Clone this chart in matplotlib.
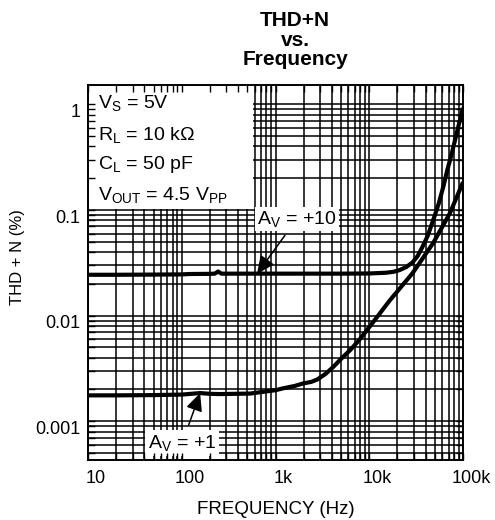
# THD+N vs. frequency, datasheet style log-log chart

import matplotlib
matplotlib.use('Agg')
import matplotlib.pyplot as plt
from matplotlib.patches import Rectangle
from matplotlib.ticker import NullFormatter
from matplotlib.transforms import ScaledTranslation

plt.rcParams['font.family'] = ['Liberation Sans', 'DejaVu Sans']
plt.rcParams['mathtext.fontset'] = 'custom'
plt.rcParams['mathtext.rm'] = 'Liberation Sans'
plt.rcParams['mathtext.it'] = 'Liberation Sans:italic'
plt.rcParams['mathtext.bf'] = 'Liberation Sans:bold'

#### data ####
# gain = +10 curve
freq_av10 = [10, 20, 50, 100, 120, 200, 225, 244, 265, 500, 1000, 2000, 5000, 10000,
             15000, 18000, 21000, 25000, 29000, 33000, 37000, 42000, 48000,
             55000, 62000, 68000, 75000, 85000, 100000]
thd_av10 = [0.0244, 0.0244, 0.0245, 0.0246, 0.0248, 0.0249, 0.0250, 0.0262, 0.0250, 0.0250,
            0.0250, 0.0250, 0.0250, 0.0251, 0.0255, 0.0260, 0.0270, 0.0290, 0.0320,
            0.0370, 0.0450, 0.0570, 0.0800, 0.115, 0.170, 0.240, 0.330, 0.520, 0.930]

# gain = +1 curve
freq_av1 = [10, 20, 50, 100, 157, 200, 256, 535, 1000, 1200, 1600, 1965, 2400, 2773,
            3400, 4100, 5000, 6240, 7700, 9460, 16600, 29000, 48000, 72600, 100000]
thd_av1 = [0.00176, 0.00176, 0.00177, 0.00179, 0.00185, 0.00182, 0.00181, 0.00183,
           0.00197, 0.00205, 0.00216, 0.00228, 0.00236, 0.00248, 0.00280, 0.00325,
           0.00390, 0.00471, 0.00580, 0.0073, 0.0140, 0.0253, 0.0487, 0.0937, 0.184]

x_ticks = [10, 100, 1000, 10000, 100000]
x_tick_labels = ['10', '100', '1k', '10k', '100k']
y_ticks = [0.001, 0.01, 0.1, 1]
y_tick_labels = ['0.001', '0.01', '0.1', '1']

conditions = [r'V$_\mathrm{S}$ = 5V',
              r'R$_\mathrm{L}$ = 10 k$\Omega$',
              r'C$_\mathrm{L}$ = 50 pF',
              r'V$_\mathrm{OUT}$ = 4.5 V$_\mathrm{PP}$']

#### figure ####
fig = plt.figure(figsize=(4.95, 5.2), dpi=100)
ax = fig.add_axes([0.1778, 0.1154, 0.7576, 0.7212])
ax.set_xscale('log')
ax.set_yscale('log')
ax.set_xlim(10, 1e5)
ax.set_ylim(0.00043, 1.53)

# grid on the main axes
ax.grid(which='both', color='black', lw=1.1)

# curves
ax.plot(freq_av10, thd_av10, color='black', lw=3.0, zorder=3, solid_capstyle='butt')
ax.plot(freq_av1, thd_av1, color='black', lw=3.0, zorder=3, solid_capstyle='butt')

# tick labels
ax.set_xticks(x_ticks, x_tick_labels)
ax.set_yticks(y_ticks, y_tick_labels)
ax.xaxis.set_minor_formatter(NullFormatter())
ax.yaxis.set_minor_formatter(NullFormatter())
ax.tick_params(which='both', length=0, labelsize=13)
ax.tick_params(axis='x', pad=7)
ax.tick_params(axis='y', pad=5.5)
for spine in ax.spines.values():
    spine.set_visible(False)

ax.set_xlabel('FREQUENCY (Hz)', fontsize=13.5, labelpad=10)
ax.set_ylabel('THD + N (%)', fontsize=12)
ax.yaxis.set_label_coords(-0.168, 0.541)

# white box with test conditions
ax.add_patch(Rectangle((0, 0.669), 0.44, 0.331, transform=ax.transAxes,
                       facecolor='white', edgecolor='none', zorder=2.5))
cond_y = [0.952, 0.867, 0.787, 0.707]
for txt, yy in zip(conditions, cond_y):
    ax.text(0.027, yy, txt, transform=ax.transAxes, fontsize=14,
            va='center', ha='left', zorder=4)

# curve labels with arrows
arrow = dict(arrowstyle='-|>,head_length=0.6,head_width=0.28', color='black', lw=1.1,
             mutation_scale=18, shrinkA=4, shrinkB=0)
ax.annotate(r'A$_\mathrm{V}$ = +10', xy=(635, 0.0249), xycoords='data',
            xytext=(0.557, 0.643), textcoords='axes fraction',
            fontsize=14, ha='center', va='center', zorder=5,
            bbox=dict(boxstyle='square,pad=0.1', fc='white', ec='none'),
            arrowprops=arrow)
ax.annotate(r'A$_\mathrm{V}$ = +1', xy=(157, 0.00185), xycoords='data',
            xytext=(0.251, 0.045), textcoords='axes fraction',
            fontsize=14, ha='center', va='center', zorder=5,
            bbox=dict(boxstyle='square,pad=0.15', fc='white', ec='none'),
            arrowprops=arrow)

# overlay axes that only draws the frame and inward ticks (on top of white boxes)
axt = fig.add_axes(ax.get_position(), sharex=ax, sharey=ax, facecolor='none')
axt.set_zorder(ax.get_zorder() + 1)
axt.grid(False)
axt.tick_params(which='both', direction='in', top=True, right=True, length=5,
                width=1.0, labelbottom=False, labelleft=False)
for spine in axt.spines.values():
    spine.set_linewidth(1.4)

# the datasheet has its tick labels a bit off the grid lines
for lbl in ax.get_xticklabels():
    lbl.set_transform(lbl.get_transform() + ScaledTranslation(8 / 100, 0, fig.dpi_scale_trans))
for lbl in ax.get_yticklabels():
    lbl.set_transform(lbl.get_transform() + ScaledTranslation(0, -6 / 100, fig.dpi_scale_trans))

# title
fig.text(295 / 495, 1 - 40 / 520, 'THD+N\nvs.\nFrequency', ha='center', va='center',
         fontsize=15, fontweight='bold', linespacing=1.03)

fig.savefig('out.png', dpi=100)
